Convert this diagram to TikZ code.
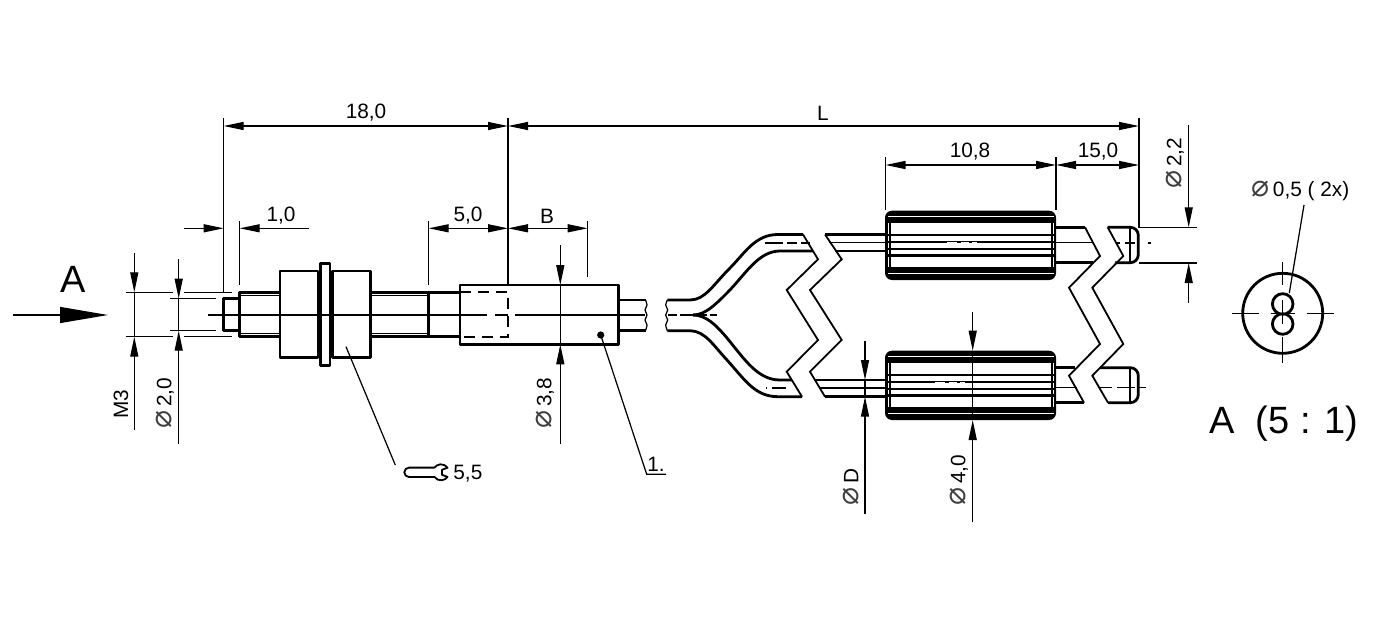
\documentclass[tikz,border=0pt]{standalone}
\usepackage{fontspec}
\setmainfont{Liberation Sans}
\newfontfamily\symfont{DejaVu Sans}
\usetikzlibrary{arrows.meta, positioning}
\newcommand{\dm}{{\symfont\fontsize{15}{12}\selectfont\color{black!75}⌀}}
\tikzset{
  thinline/.style={line width=0.62pt},
  thickline/.style={line width=1.4pt, line join=round},
  midline/.style={line width=0.9pt},
  dimtip/.style={-{Triangle[length=10pt,width=4pt]}},
  dimboth/.style={{Triangle[length=10pt,width=4pt]}-{Triangle[length=10pt,width=4pt]}},
  dimtext/.style={font=\fontsize{10.4}{12}\selectfont, inner sep=0pt},
  bigtext/.style={font=\fontsize{19}{22}\selectfont, inner sep=0pt}
}
\begin{document}
\begin{tikzpicture}[x=0.5pt,y=-0.5pt]
  \useasboundingbox (0,0) rectangle (1380,631);
  % view arrow
  \draw[thinline, -{Triangle[length=24pt,width=8pt]}] (13,315) -- (108,315);
  \node[bigtext] (viewA) at (73,279) {A};

  % connector body
  \draw[thickline] (223.5,298.7) rectangle (239.5,330.7);
  \draw[thickline] (239.5,292.3) rectangle (280,336.7);
  \draw[thinline] (239.5,295.2) -- (280,295.2) (239.5,333.8) -- (280,333.8);
  \draw[thickline] (280,271) rectangle (318,357.7);
  \draw[thickline] (320.7,263.7) rectangle (330,365.7);
  \draw[thickline] (332.3,271) rectangle (370.3,357.7);
  \draw[thickline] (280,315) -- (318,315) (332.3,315) -- (370.3,315);
  \draw[thickline] (370.3,292.3) -- (460,292.3) (370.3,336.7) -- (460,336.7);
  \draw[thinline] (370.3,295.2) -- (428.7,295.2) (370.3,333.8) -- (428.7,333.8);
  \draw[thickline] (428.7,292.3) -- (428.7,336.7);
  \draw[thickline] (460,285) rectangle (618.3,344.3);
  \draw[midline, dash pattern=on 5.5pt off 3.5pt] (460,292.3) -- (508.3,292.3) -- (508.3,336.7) -- (460,336.7);
  \draw[thinline] (208,315) -- (486.7,315) (495,315) -- (508.3,315) (515,315) -- (645,315);
  \foreach \xa in {319,331} {
    \draw[midline] (\xa,292.5) -- (\xa,294.5) (\xa,334.5) -- (\xa,336.5);
  }

  % cable and breaks
  \draw[thickline] (618.3,300) -- (645.5,300) (618.3,330.7) -- (645.5,330.7);
  \draw[thinline] plot[smooth] coordinates {(645.5,300)(647,305)(645,310)(647,315)(645,320)(647,325)(645.5,330.7)};
  \draw[thinline] plot[smooth] coordinates {(667.3,300)(665.7,305)(667.7,310)(665.7,315)(667.7,320)(665.7,325)(667.3,330.7)};
  \draw[thickline] (667.3,300) -- (690,300) .. controls (705,300) and (713,285) .. (730,268) .. controls (745,253) and (755,234.5) .. (778,234.5) -- (803,234.5);
  \draw[thickline] (693,315) .. controls (705,315) and (715,305) .. (727,293) .. controls (745,275) and (758,251) .. (780,251) -- (813,251);
  \draw[thickline] (693,315) .. controls (706,315) and (716,325) .. (727,338) .. controls (745,360) and (758,380) .. (780,380) -- (791.7,380);
  \draw[thickline] (667.3,330.7) -- (690,330.7) .. controls (705,331) and (713,345) .. (727,360) .. controls (745,380) and (755,396.7) .. (778,396.7) -- (802,396.7);
  \draw[thinline] (668,315) -- (677,315) (680,315) -- (693,315) (697,315) -- (707,315) (710,315) -- (717,315);
  \draw[thinline] (765,243) -- (783,243) (787,243) -- (797,243) (801,243) -- (810,243);
  \draw[thinline] (766,388) -- (767,388) (772,388) -- (786,388);
  \draw[midline] (803,234.5) -- (818,259.3) -- (786.7,290) -- (818,340) -- (786.7,371.7) -- (802,396.7);
  \draw[midline] (825,234.5) -- (841.7,259.3) -- (810,290) -- (841.7,340) -- (810,371.7) -- (825,396.7);
  \draw[thickline] (825,234.5) -- (885,234.5) (834.5,251) -- (885,251);
  \draw[thinline] (829,242.7) -- (885,242.7);
  \draw[thickline] (815,380) -- (885,380) (825,396.7) -- (885,396.7);
  \draw[thinline] (820,388) -- (885,388);

  % sleeves
  \foreach \dy/\gap in {0/947, 140/935} {
    \fill[rounded corners=3.5pt] (885,{210.7+\dy}) rectangle (1056,{280+\dy});
    \fill[white] (887.5,{215.7+\dy}) rectangle (1053.5,{217.2+\dy});
    \fill[white] (887.5,{223+\dy}) rectangle (1053.5,{266.5+\dy});
    \fill[white] (887.5,{272.5+\dy}) rectangle (1053.5,{274+\dy});
    \draw[line width=1pt] (889.5,{222+\dy}) -- (889.5,{267+\dy}) (1052,{222+\dy}) -- (1052,{267+\dy});
    \draw[thinline] (886.8,{222+\dy}) -- (886.8,{267+\dy}) (1054.2,{222+\dy}) -- (1054.2,{267+\dy});
    \foreach \yb in {235,242.2,249,255.5} {
      \draw[line width=1.2pt] (886,{\yb+\dy}) -- (1055,{\yb+\dy});
    }
    \draw[white, line width=0.7pt] (\gap,{242.2+\dy}) -- ({\gap+10},{242.2+\dy}) ({\gap+14},{242.2+\dy}) -- ({\gap+22},{242.2+\dy}) ({\gap+25},{242.2+\dy}) -- ({\gap+30},{242.2+\dy});
  }

  % free ends
  \draw[midline] (1085,227.3) -- (1100,256) -- (1069,287.7) -- (1100,344) -- (1069,375.7) -- (1084,402.7);
  \draw[thickline] (1056,227.3) -- (1085,227.3) (1084,402.7) -- (1056,402.7);
  \draw[midline] (1107.7,227.3) -- (1123.3,256) -- (1092.3,287.7) -- (1123.3,344) -- (1092.3,375.7) -- (1108,402.7);
  \draw[thickline] (1056,262.3) -- (1093,262.3) (1056,367.7) -- (1075,367.7);
  \draw[thinline] (1056,242.7) -- (1094,242.7) (1056,387.7) -- (1077,387.7);
  \draw[thickline, rounded corners=4pt] (1107.7,227.3) -- (1138.3,227.3) -- (1138.3,262.7) -- (1115,262.7);
  \draw[thickline, rounded corners=4pt] (1100,367.7) -- (1138.3,367.7) -- (1138.3,402.7) -- (1108,402.7);
  \draw[midline] (1130,227.3) -- (1130,262.7) (1130,367.7) -- (1130,402.7);
  \draw[thinline] (1116,243) -- (1120,243) (1125,243) -- (1135,243) (1148,243) -- (1151,243);
  \draw[thinline] (1098,387.7) -- (1112,387.7) (1117,387.7) -- (1135,387.7) (1139,387.7) -- (1146,387.7);

  % extension lines
  \draw[thinline] (223.7,118) -- (223.7,291.7);
  \draw[thinline] (239.7,221) -- (239.7,285);
  \draw[thinline] (508,118) -- (508,285);
  \draw[thinline] (428.7,221) -- (428.7,285);
  \draw[thinline] (587.7,221) -- (587.7,277);
  \draw[thinline] (885.5,157) -- (885.5,210);
  \draw[thinline] (1056,157) -- (1056,210);
  \draw[thinline] (1139,118) -- (1139,227.3) -- (1197,227.3);
  \draw[thinline] (1139,263) -- (1197,263);
  \draw[thinline] (126,292.3) -- (173,292.3) (184,292.3) -- (232,292.3);
  \draw[thinline] (126,336.7) -- (173,336.7) (184,336.7) -- (232,336.7);
  \draw[thinline] (170,298.7) -- (216,298.7) (170,330.7) -- (216,330.7);

  % dimensions
  \draw[thinline, dimboth] (223.7,126) -- (508,126);
  \draw[thinline, dimboth] (508,126) -- (1139,126);
  \node[dimtext] (len18) at (366,113) {18,0};
  \node[dimtext] (lenL) at (823,113) {L};

  \draw[thinline, dimtip] (184,228.3) -- (223.7,228.3);
  \draw[thinline, dimtip] (308.6,228.3) -- (239.7,228.3);
  \node[dimtext] (len1) at (281,216) {1,0};
  \draw[thinline, dimboth] (428.7,228.3) -- (508,228.3);
  \draw[thinline, dimboth] (508,228.3) -- (587.7,228.3);
  \node[dimtext] (len5) at (468,216) {5,0};
  \node[dimtext] (lenB) at (547,216) {B};

  \draw[thinline, dimboth] (885.5,165) -- (1056,165);
  \draw[thinline, dimboth] (1056,165) -- (1139,165);
  \node[dimtext] (len108) at (970,152) {10,8};
  \node[dimtext] (len15) at (1098,152) {15,0};

  \draw[thinline, dimtip] (134.3,253) -- (134.3,292.3);
  \draw[thinline, dimtip] (134.3,430) -- (134.3,336.7);
  \draw[thinline] (134.3,292.3) -- (134.3,336.7);
  \node[dimtext, rotate=90] (diaM) at (121,404) {M3};
  \draw[thinline, dimtip] (178.7,259.3) -- (178.7,298.7);
  \draw[thinline, dimtip] (178.7,444) -- (178.7,330.7);
  \draw[thinline] (178.7,298.7) -- (178.7,330.7);
  \node[dimtext, rotate=90] (dia20) at (165,403) {\dm\,2,0};

  \draw[thinline, dimtip] (560.3,245) -- (560.3,285);
  \draw[thinline, dimtip] (560.3,444) -- (560.3,344.3);
  \draw[thinline] (560.3,285) -- (560.3,344.3);
  \node[dimtext, rotate=90] (dia38) at (545,403) {\dm\,3,8};

  \draw[thinline, dimtip] (865,340.7) -- (865,380);
  \draw[thinline, dimtip] (865,514) -- (865,396.7);
  \draw[thinline] (865,380) -- (865,396.7);
  \node[dimtext, rotate=90] (diaD) at (851,487) {\dm\,D};

  \draw[thinline, dimtip] (972.7,311.7) -- (972.7,350.7);
  \draw[thinline, dimtip] (972.7,522) -- (972.7,420);
  \draw[thinline] (972.7,350.7) -- (972.7,420);
  \node[dimtext, rotate=90] (dia40) at (959,480) {\dm\,4,0};

  \draw[thinline, dimtip] (1188.7,125) -- (1188.7,227.3);
  \draw[thinline, dimtip] (1188.7,302.7) -- (1188.7,263);
  \node[dimtext, rotate=90] (dia22) at (1175,163) {\dm\,2,2};

  % leaders
  \draw[thinline] (346,346.7) -- (395.3,465);
  \draw[midline, line join=round] (434.5,467.6) -- (409,467.6) arc[start angle=270, end angle=90, radius=4.7] -- (434.5,477)
    arc[start angle=144, end angle=35, radius=8] -- (442,474.8) -- (442,469.8) -- (447.55,467.7)
    arc[start angle=325, end angle=216, radius=8];
  \node[dimtext, anchor=west] (wrench) at (453,473.5) {5,5};
  \fill (600.7,335) circle[radius=3.6];
  \draw[thinline] (600.7,335) -- (646.7,474.3) -- (666,474.3);
  \node[dimtext] (note1) at (656,464) {1.};

  % view A
  \draw[thickline] (1282.7,313.3) circle[radius=40];
  \draw[thickline] (1282.7,304) circle[radius=10.3] (1282.7,324) circle[radius=10.3];
  \draw[thinline] (1231.7,313.3) -- (1259,313.3) (1270.7,313.3) -- (1295,313.3) (1306.7,313.3) -- (1334,313.3);
  \draw[thinline] (1282.7,262) -- (1282.7,285) (1282.7,300) -- (1282.7,324) (1282.7,337) -- (1282.7,363);
  \draw[thinline] (1304,205) -- (1289.3,293);
  \node[dimtext, anchor=west] (holes) at (1251,191) {\dm\,0,5\ ( 2x)};
  \node[bigtext] (viewscale) at (1284,424) {A\ \ (5 : 1)};
\end{tikzpicture}
\end{document}
